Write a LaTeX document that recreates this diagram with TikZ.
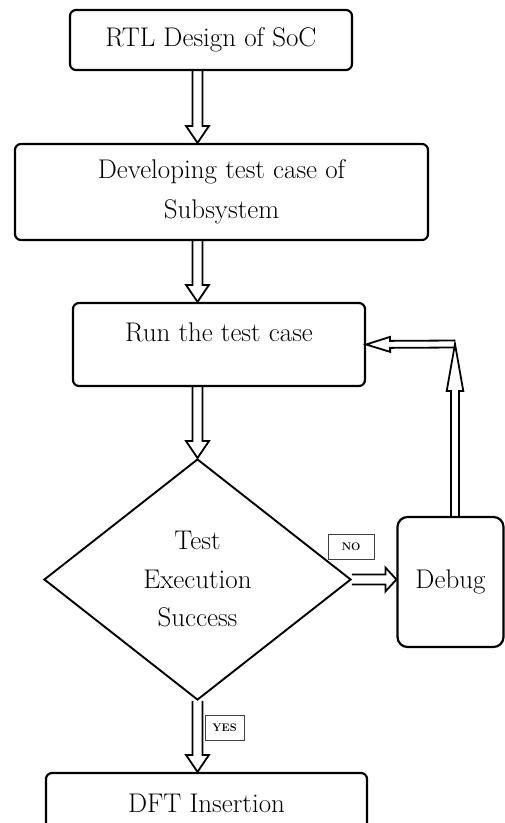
\documentclass[tikz,border=0pt]{standalone}
\usepackage{amsmath}
\usepackage{xcolor}
\usepackage{tikz}
\usetikzlibrary{shapes.geometric, calc}

\tikzset{
  arrow shaft/.store in=\ashaft,
  arrow head/.store in=\ahead,
  arrow tip/.store in=\atip,
  arrow shaft=5, arrow head=11.5, arrow tip=17,
  flowline/.style={draw, line width=1.8pt, line join=miter}
}

% hollow block arrow from #2 to #3
\newcommand{\flowarrow}[3][]{%
  \draw[flowline, #1] let \p1=(#2), \p2=(#3),
      \n1={atan2(\y2-\y1,\x2-\x1)}, \n2={veclen(\x2-\x1,\y2-\y1)} in
    [shift={(\p1)}, rotate=\n1]
    (0pt,\ashaft pt) -- ({\n2-\atip pt},\ashaft pt) -- ({\n2-\atip pt},\ahead pt)
    -- ({\n2},0pt) -- ({\n2-\atip pt},-\ahead pt) -- ({\n2-\atip pt},-\ashaft pt)
    -- (0pt,-\ashaft pt);}

\begin{document}
\begin{tikzpicture}[x=1pt, y=-1pt,
    every node/.style={font=\fontsize{27}{40}\selectfont},
    stepbox/.style={draw, rounded corners=6pt, line width=2.2pt, align=center},
    decision/.style={diamond, draw, line width=1.9pt, aspect=1.27, align=center,
      font=\fontsize{27}{38.5}\selectfont},
    tag/.style={draw=black!75, line width=0.8pt, minimum height=25pt, inner sep=0pt,
      font=\bfseries\fontsize{11}{12}\selectfont}]
  \useasboundingbox (0,0) rectangle (505,823);
  \clip (0,0) rectangle (505,823);

  \node[stepbox, minimum width=282pt, minimum height=60pt] (rtl) at (211,40) {RTL Design of SoC};
  \node[stepbox, minimum width=413pt, minimum height=96pt] (dev) at (221.5,192) {Developing test case of\\Subsystem};
  \node[stepbox, minimum width=292pt, minimum height=83pt, text height=18.8pt, text depth=24pt] (run) at (219,344.5) {Run the test case};
  \node[decision, minimum width=307pt, minimum height=241pt] (dec) at (197.5,579.5) {Test\\Execution\\Success};
  \node[stepbox, rounded corners=10pt, minimum width=106pt, minimum height=130pt] (debug) at (450.5,582) {Debug};
  \node[stepbox, minimum width=321pt, minimum height=60pt] (dft) at (206.5,803) {DFT Insertion};

  \node[tag, minimum width=46pt] (no) at (351,546.5) {NO};
  \node[tag, minimum width=39pt] (yes) at (224.5,727.5) {YES};

  \coordinate (fb) at (455,344);

  \flowarrow{rtl.south -| dec}{dev.north -| dec}
  \flowarrow{dev.south -| dec}{run.north -| dec}
  \flowarrow{run.south -| dec}{dec.north}
  \flowarrow{dec.south}{dft.north -| dec}
  \flowarrow[arrow shaft=5, arrow head=12, arrow tip=11]{dec.east}{dec.east -| debug.west}
  \flowarrow[arrow shaft=4, arrow head=8.3, arrow tip=47]{fb |- debug.north}{fb}
  \flowarrow[arrow shaft=3.5, arrow head=7.5, arrow tip=24]{fb}{run.east}
\end{tikzpicture}
\end{document}
